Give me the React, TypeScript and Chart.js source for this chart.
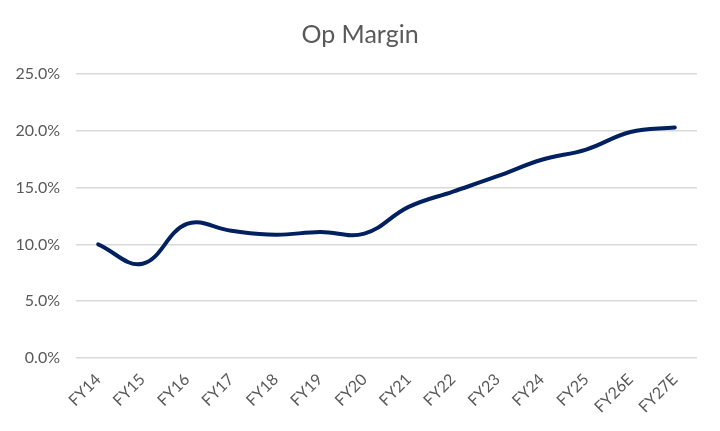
import React, { useEffect, useRef } from "react";
import { Chart, registerables } from "chart.js";

Chart.register(...registerables);

const categories = ["FY14", "FY15", "FY16", "FY17", "FY18", "FY19", "FY20", "FY21", "FY22", "FY23", "FY24", "FY25", "FY26E", "FY27E"];
const opMargin = [10.0, 8.3, 11.8, 11.2, 10.85, 11.1, 10.95, 13.3, 14.65, 16.0, 17.45, 18.35, 19.9, 20.3];
const yTicks = [0, 5, 10, 15, 20, 25];

const FONT = "Lato";
const TEXT = "#595959";

export default function App() {
  const ref = useRef<HTMLCanvasElement | null>(null);
  useEffect(() => {
    if (!ref.current) return;
    const chart = new Chart(ref.current, {
      type: "line",
      data: {
        labels: categories,
        datasets: [
          {
            label: "Op Margin",
            data: opMargin,
            borderColor: "#002060",
            backgroundColor: "#002060",
            borderWidth: 4,
            pointRadius: 0,
            tension: 0.4,
            borderCapStyle: "round",
            fill: false,
          },
        ],
      },
      options: {
        responsive: false,
        animation: false,
        layout: { padding: 0 },
        plugins: {
          legend: { display: false },
          tooltip: { enabled: false },
          title: {
            display: true,
            text: "Op Margin",
            color: TEXT,
            font: { family: FONT, size: 25, weight: "normal" },
            padding: { top: 20, bottom: 24 },
          },
        },
        scales: {
          x: {
            offset: true,
            grid: { display: false },
            border: { display: false },
            ticks: {
              color: TEXT,
              font: { family: FONT, size: 16 },
              maxRotation: 45,
              minRotation: 45,
              autoSkip: false,
              padding: 4,
            },
            afterFit: (s: any) => {
              s.height = 73;
            },
          },
          y: {
            min: 0,
            max: 25,
            afterBuildTicks: (s: any) => {
              s.ticks = yTicks.map((v) => ({ value: v }));
            },
            grid: { color: "#d9d9d9", lineWidth: 1.5, drawTicks: false },
            border: { display: false },
            ticks: {
              color: TEXT,
              font: { family: FONT, size: 16 },
              padding: 16,
              callback: (v: any) => Number(v).toFixed(1) + "%",
            },
            afterFit: (s: any) => {
              s.width = 76;
            },
          },
          yRight: {
            position: "right",
            display: true,
            min: 0,
            max: 25,
            grid: { display: false },
            border: { display: false },
            ticks: { display: false },
            afterFit: (s: any) => {
              s.width = 23;
            },
          },
        },
      },
    });
    return () => chart.destroy();
  }, []);
  return (
    <div style={{ position: "absolute", left: 0, top: 0, width: 720, height: 431, background: "#fff" }}>
      <canvas ref={ref} width={720} height={431} />
    </div>
  );
}
